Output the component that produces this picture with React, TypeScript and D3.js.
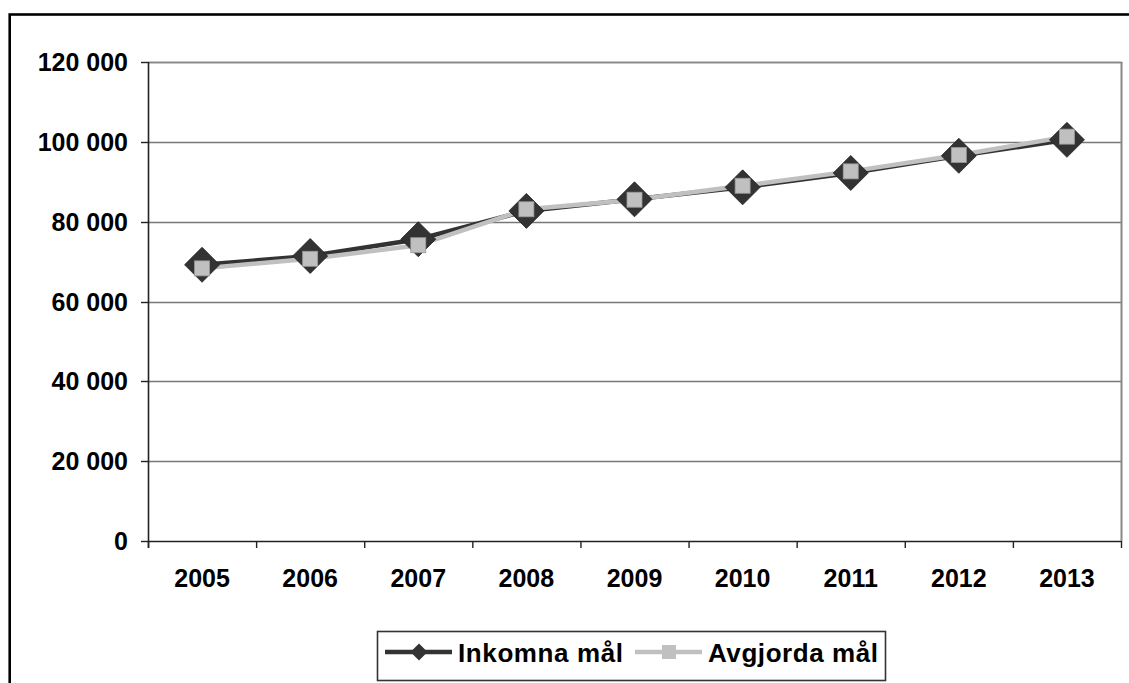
import React from "react";
import * as d3 from "d3";

const years = ["2005", "2006", "2007", "2008", "2009", "2010", "2011", "2012", "2013"];
const inkomna = [69200, 71400, 75600, 82700, 85600, 88600, 92200, 96500, 100500];
const avgjorda = [68300, 70700, 74100, 83100, 85500, 89000, 92600, 96700, 101300];
const yTicks = [0, 20000, 40000, 60000, 80000, 100000, 120000];
const seriesNames = ["Inkomna mål", "Avgjorda mål"];

const W = 1129;
const H = 683;
const FONT = "'Liberation Sans', Arial, Helvetica, sans-serif";
const DARK = "#333333";
const LIGHT = "#c0c0c0";

const fmt = (v: number) => d3.format(",")(v).replace(/,/g, " ");

export default function App() {
  const left = 148, right = 1121, top = 62, bottom = 541;
  const x = d3.scaleBand<string>().domain(years).range([left, right]).padding(0);
  const y = d3.scaleLinear().domain([0, 120000]).range([bottom, top]);
  const cx = (d: string) => (x(d) as number) + x.bandwidth() / 2;

  const line = d3
    .line<number>()
    .x((_, i) => cx(years[i]))
    .y((v) => y(v));

  const diamond = (px: number, py: number, r: number) =>
    `M${px},${py - r}L${px + r},${py}L${px},${py + r}L${px - r},${py}Z`;

  const boundaries = years.map((d) => x(d) as number).concat([right]);

  return (
    <svg
      width={W}
      height={H}
      style={{ position: "absolute", left: 0, top: 0, background: "#fff" }}
      fontFamily={FONT}
    >
      {/* outer chart border (cropped) */}
      <rect x={9.7} y={14.5} width={W + 50} height={H + 50} fill="none" stroke="#000" strokeWidth={2.6} />

      {/* gridlines */}
      {yTicks.map((t) => (
        <line
          key={"g" + t}
          x1={left}
          x2={right}
          y1={Math.round(y(t)) + 0.5}
          y2={Math.round(y(t)) + 0.5}
          stroke={t === 0 ? "#222" : "#777"}
          strokeWidth={t === 0 ? 1.6 : 1.3}
        />
      ))}
      {/* plot area right border */}
      <line x1={right + 0.5} x2={right + 0.5} y1={top} y2={bottom} stroke="#888" strokeWidth={2} />
      <line x1={left} x2={right + 1.5} y1={top + 0.5} y2={top + 0.5} stroke="#888" strokeWidth={1.5} />

      {/* y axis */}
      <line x1={left + 0.5} x2={left + 0.5} y1={top} y2={bottom + 7} stroke="#222" strokeWidth={1.6} />
      {yTicks.map((t) => (
        <g key={"yt" + t}>
          <line x1={left - 7} x2={left} y1={Math.round(y(t)) + 0.5} y2={Math.round(y(t)) + 0.5} stroke="#222" strokeWidth={1.4} />
          <text
            x={128}
            y={y(t)}
            dy="0.36em"
            textAnchor="end"
            fontSize={25}
            fontWeight="bold"
            fill="#000"
          >
            {fmt(t)}
          </text>
        </g>
      ))}

      {/* x axis ticks and labels */}
      {boundaries.map((b, i) => (
        <line key={"xt" + i} x1={b + 0.5} x2={b + 0.5} y1={bottom} y2={bottom + 7} stroke="#222" strokeWidth={1.4} />
      ))}
      {years.map((d) => (
        <text key={"xl" + d} x={cx(d)} y={587} textAnchor="middle" fontSize={25} fontWeight="bold" fill="#000">
          {d}
        </text>
      ))}

      {/* series lines */}
      <path d={line(inkomna) || ""} fill="none" stroke={DARK} strokeWidth={4.5} strokeLinejoin="round" />
      <path d={line(avgjorda) || ""} fill="none" stroke={LIGHT} strokeWidth={4.5} strokeLinejoin="round" />

      {/* markers */}
      {inkomna.map((v, i) => (
        <path key={"d" + i} d={diamond(cx(years[i]), y(v), 17.5)} fill={DARK} stroke="#222" strokeWidth={0.8} />
      ))}
      {avgjorda.map((v, i) => (
        <rect
          key={"s" + i}
          x={cx(years[i]) - 7.5}
          y={y(v) - 7.5}
          width={15}
          height={15}
          fill={LIGHT}
          stroke="#9a9a9a"
          strokeWidth={0.8}
        />
      ))}

      {/* legend */}
      <rect x={377.5} y={631.5} width={508} height={49} fill="#fff" stroke="#333" strokeWidth={1.6} />
      <line x1={385} x2={452} y1={652} y2={652} stroke={DARK} strokeWidth={4.5} />
      <path d={diamond(419, 652, 8.5)} fill={DARK} />
      <text x={458} y={662} fontSize={26} fontWeight="bold" fill="#000" textLength={165} lengthAdjust="spacing">
        {seriesNames[0]}
      </text>
      <line x1={635} x2={702} y1={652} y2={652} stroke={LIGHT} strokeWidth={4.5} />
      <rect x={662} y={645} width={14} height={14} fill={LIGHT} />
      <text x={708} y={662} fontSize={26} fontWeight="bold" fill="#000" textLength={170} lengthAdjust="spacing">
        {seriesNames[1]}
      </text>
    </svg>
  );
}
